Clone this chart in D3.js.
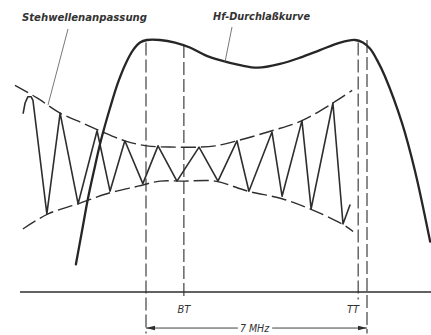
<!DOCTYPE html>
<html>
<head>
<meta charset="utf-8">
<script src="https://cdn.jsdelivr.net/npm/d3@7"></script>
<style>
  body { margin: 0; background: #fff; }
  svg { display: block; }
  .lbl { font-family: "DejaVu Sans Condensed", "DejaVu Sans", sans-serif; font-style: italic; font-weight: bold; fill: #333; }
</style>
</head>
<body>
<script>
var width = 431, height = 335;

// frequency in MHz (0 = lower band marker), amplitude relative to curve peak
var hfFreq = [-2.22, -2.03, -1.84, -1.65, -1.43, -1.14, -0.89, -0.63, -0.41, -0.19, 0.03, 0.44, 0.92, 1.39, 1.87, 2.34, 2.98, 3.55, 4.24, 4.88, 5.51, 6.15, 6.62, 6.87, 7.10, 7.32, 7.57, 8.11, 8.52, 9.00];
var hfAmp  = [0.11, 0.24, 0.37, 0.48, 0.60, 0.73, 0.83, 0.91, 0.96, 0.99, 1.00, 1.00, 0.99, 0.97, 0.94, 0.92, 0.90, 0.89, 0.905, 0.93, 0.96, 0.99, 1.00, 0.99, 0.965, 0.92, 0.855, 0.67, 0.48, 0.20];

var upperFreq = [-4.15, -3.45, -2.72, -2.00, -1.46, -0.67, 0.03, 0.92, 1.71, 2.19, 2.88, 3.99, 4.94, 5.92, 6.53];
var upperAmp  = [0.82, 0.77, 0.71, 0.67, 0.64, 0.60, 0.58, 0.575, 0.575, 0.58, 0.60, 0.64, 0.68, 0.75, 0.80];

var lowerFreq = [-3.90, -3.10, -2.15, -1.24, -0.25, 0.44, 1.20, 2.19, 3.23, 4.31, 5.19, 6.21, 6.56];
var lowerAmp  = [0.25, 0.31, 0.35, 0.39, 0.42, 0.44, 0.44, 0.44, 0.40, 0.37, 0.33, 0.27, 0.24];

var swrFreq = [-3.89, -3.83, -3.74, -3.64, -3.58, -3.55, -3.14, -2.72, -2.15, -1.55, -1.14, -0.67, -0.10, 0.38, 0.98, 1.68, 2.28, 2.88, 3.26, 3.99, 4.31, 4.94, 5.23, 5.92, 6.24, 6.46];
var swrAmp  = [0.71, 0.75, 0.775, 0.775, 0.76, 0.73, 0.31, 0.71, 0.35, 0.64, 0.40, 0.60, 0.43, 0.58, 0.44, 0.575, 0.44, 0.60, 0.40, 0.635, 0.38, 0.68, 0.33, 0.75, 0.27, 0.345];

var markerFreq   = [0, 1.20, 6.72, 7.00];
var markerLabels = ["", "BT", "TT", ""];
var markerTop    = [0.99, 0.98, 0.99, 1.00];
var markerBottom = [-0.165, -0.03, -0.03, -0.165];

var bandWidth = 7;
var bandLabel = "7 MHz";

var x = d3.scaleLinear().domain([0, 7]).range([146, 367]);
var y = d3.scaleLinear().domain([0, 1]).range([292, 40]);

var svg = d3.select("body").append("svg")
    .attr("width", width)
    .attr("height", height);

var ink = "#2e2e2e";

function pts(fs, as) { return fs.map(function(f, i) { return [f, as[i]]; }); }

var smooth = d3.line()
    .x(function(d) { return x(d[0]); })
    .y(function(d) { return y(d[1]); })
    .curve(d3.curveCatmullRom.alpha(0.5));

var straight = d3.line()
    .x(function(d) { return x(d[0]); })
    .y(function(d) { return y(d[1]); });

// frequency axis (baseline)
svg.append("line")
  .attr("x1", x(-3.99)).attr("x2", width)
  .attr("y1", y(0)).attr("y2", y(0))
  .attr("stroke", ink).attr("stroke-width", 1.6);

// band markers
svg.selectAll("line.marker")
  .data(markerFreq)
  .enter().append("line")
  .attr("class", "marker")
  .attr("x1", function(d) { return x(d); })
  .attr("x2", function(d) { return x(d); })
  .attr("y1", function(d, i) { return y(markerTop[i]); })
  .attr("y2", function(d, i) { return y(markerBottom[i]); })
  .attr("stroke", ink).attr("stroke-width", 1.1)
  .attr("stroke-dasharray", "13,4");

svg.selectAll("text.marker")
  .data(markerFreq)
  .enter().append("text")
  .attr("class", "lbl")
  .attr("x", function(d, i) { return i == 2 ? x(d) + 1 : x(d); })
  .attr("y", y(0) + 21)
  .attr("text-anchor", function(d, i) { return i == 2 ? "end" : "middle"; })
  .style("font-size", "11px")
  .style("font-weight", "normal")
  .text(function(d, i) { return markerLabels[i]; });

// envelopes of the standing wave
svg.append("path")
  .datum(pts(upperFreq, upperAmp))
  .attr("d", smooth)
  .attr("fill", "none").attr("stroke", ink).attr("stroke-width", 1.4)
  .attr("stroke-dasharray", "15,5");

svg.append("path")
  .datum(pts(lowerFreq, lowerAmp))
  .attr("d", smooth)
  .attr("fill", "none").attr("stroke", ink).attr("stroke-width", 1.4)
  .attr("stroke-dasharray", "15,5");

// standing wave
svg.append("path")
  .datum(pts(swrFreq, swrAmp))
  .attr("d", straight)
  .attr("fill", "none").attr("stroke", ink).attr("stroke-width", 1.6)
  .attr("stroke-linejoin", "round").attr("stroke-linecap", "round");

// Hf pass curve
svg.append("path")
  .datum(pts(hfFreq, hfAmp))
  .attr("d", smooth)
  .attr("fill", "none").attr("stroke", "#262626").attr("stroke-width", 2.3)
  .attr("stroke-linecap", "round");

// bandwidth dimension
var dimY = y(-0.143);
svg.append("line")
  .attr("x1", x(0)).attr("x2", x(bandWidth))
  .attr("y1", dimY).attr("y2", dimY)
  .attr("stroke", ink).attr("stroke-width", 0.9);

[[0, 1], [bandWidth, -1]].forEach(function(a) {
  var px = x(a[0]), s = a[1];
  svg.append("path")
    .attr("d", "M" + px + "," + dimY + "L" + (px + s * 9) + "," + (dimY - 2.3) + "L" + (px + s * 9) + "," + (dimY + 2.3) + "Z")
    .attr("fill", ink);
});

var bw = svg.append("text")
  .attr("class", "lbl")
  .attr("x", x(bandWidth / 2) - 2)
  .attr("y", dimY + 4)
  .attr("text-anchor", "middle")
  .style("font-size", "10.5px")
  .style("font-weight", "normal")
  .text(bandLabel);
var bb = bw.node().getBBox();
svg.insert("rect", "text:last-of-type")
  .attr("x", bb.x - 2).attr("y", bb.y)
  .attr("width", bb.width + 4).attr("height", bb.height)
  .attr("fill", "#fff");

// captions with leaders
svg.append("text")
  .attr("class", "lbl")
  .attr("x", 22).attr("y", 21)
  .attr("textLength", 125).attr("lengthAdjust", "spacingAndGlyphs")
  .style("font-size", "11px")
  .text("Stehwellenanpassung");
svg.append("line")
  .attr("x1", 68).attr("y1", 29).attr("x2", 48).attr("y2", 105)
  .attr("stroke", "#555").attr("stroke-width", 0.8);

svg.append("text")
  .attr("class", "lbl")
  .attr("x", 213).attr("y", 20)
  .attr("textLength", 97).attr("lengthAdjust", "spacingAndGlyphs")
  .style("font-size", "11px")
  .text("Hf-Durchlaßkurve");
svg.append("line")
  .attr("x1", 232).attr("y1", 27).attr("x2", 225).attr("y2", 62)
  .attr("stroke", "#555").attr("stroke-width", 0.8);
</script>
</body>
</html>
